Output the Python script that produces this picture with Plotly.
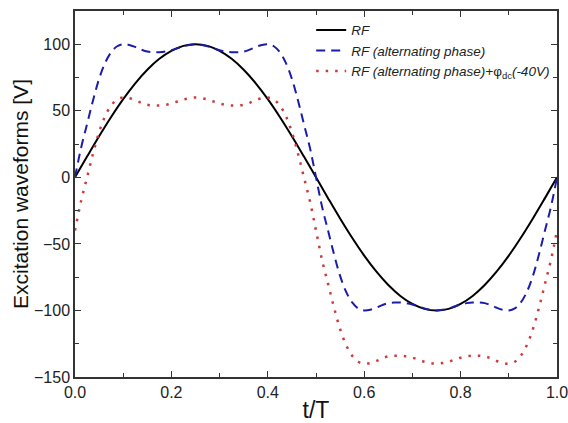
import plotly.graph_objects as go

# RF (pure sine), sampled every 0.025 of a period
t_rf = [i * 0.025 for i in range(41)]
v_rf = [0, 15.6, 30.9, 45.4, 58.8, 70.7, 80.9, 89.1, 95.1, 98.8, 100,
        98.8, 95.1, 89.1, 80.9, 70.7, 58.8, 45.4, 30.9, 15.6, 0,
        -15.6, -30.9, -45.4, -58.8, -70.7, -80.9, -89.1, -95.1, -98.8, -100,
        -98.8, -95.1, -89.1, -80.9, -70.7, -58.8, -45.4, -30.9, -15.6, 0]

# alternating-phase waveforms, sampled every 0.0125
t_alt = [i * 0.0125 for i in range(81)]
v_alt = [0, 22, 40, 58, 74, 86, 94, 98.5, 100, 99.5, 98, 96, 94.5, 94, 94, 94.5, 95.5, 97, 98.5, 99.5,
         100, 99.5, 98.5, 97, 95.5, 94.5, 94, 94, 94.5, 96, 98, 99.5, 100, 98.5, 94, 86, 74, 58, 40, 22,
         0, -22, -40, -58, -74, -86, -94, -98.5, -100, -99.5, -98, -96, -94.5, -94, -94, -94.5, -95.5, -97, -98.5, -99.5,
         -100, -99.5, -98.5, -97, -95.5, -94.5, -94, -94, -94.5, -96, -98, -99.5, -100, -98.5, -94, -86, -74, -58, -40, -22,
         0]
v_dc = [-40, -18, 0, 18, 34, 46, 54, 58.5, 60, 59.5, 58, 56, 54.5, 54, 54, 54.5, 55.5, 57, 58.5, 59.5,
        60, 59.5, 58.5, 57, 55.5, 54.5, 54, 54, 54.5, 56, 58, 59.5, 60, 58.5, 54, 46, 34, 18, 0, -18,
        -40, -62, -80, -98, -114, -126, -134, -138.5, -140, -139.5, -138, -136, -134.5, -134, -134, -134.5, -135.5, -137, -138.5, -139.5,
        -140, -139.5, -138.5, -137, -135.5, -134.5, -134, -134, -134.5, -136, -138, -139.5, -140, -138.5, -134, -126, -114, -98, -80, -62,
        -40]

names = ["<i>RF</i>",
         "<i>RF (alternating phase)</i>",
         "<i>RF (alternating phase)+</i>\u03c6<sub>dc</sub><i>(-40V)</i>"]

fig = go.Figure()
fig.add_trace(go.Scatter(x=t_rf, y=v_rf, mode="lines", name=names[0],
                         line=dict(color="black", width=2, shape="spline")))
fig.add_trace(go.Scatter(x=t_alt, y=v_alt, mode="lines", name=names[1],
                         line=dict(color="#1c1caa", width=2, dash="9px,6px", shape="spline")))
fig.add_trace(go.Scatter(x=t_alt, y=v_dc, mode="lines", name=names[2],
                         line=dict(color="#cc3b3b", width=2.5, dash="2.5px,7px", shape="spline")))

axis_common = dict(showline=True, linecolor="#333", linewidth=1.5, mirror="ticks",
                   ticks="inside", ticklen=6, tickwidth=1.3, tickcolor="#333",
                   showgrid=False, zeroline=False, ticklabeloverflow="allow", automargin=False,
                   tickfont=dict(family="Liberation Sans, Arial", size=16, color="#222"))

fig.update_xaxes(range=[0, 1.0], tickvals=[0, 0.2, 0.4, 0.6, 0.8, 1.0], tickformat=".1f",
                 minor=dict(dtick=0.1, tick0=0, ticks="inside", ticklen=4, tickcolor="#333"),
                 title=dict(text="t/T", font=dict(family="Liberation Sans, Arial", size=23, color="#111"), standoff=2),
                 **axis_common)
fig.update_yaxes(range=[-150, 125], tickvals=[-150, -100, -50, 0, 50, 100],
                 minor=dict(dtick=25, tick0=0, ticks="inside", ticklen=4, tickcolor="#333"),
                 title=dict(text="Excitation waveforms [V]", font=dict(family="Liberation Sans, Arial", size=21, color="#111"), standoff=0),
                 **axis_common)

fig.update_layout(width=568, height=423, margin=dict(l=75, r=11, t=11, b=46),
                  paper_bgcolor="white", plot_bgcolor="white",
                  legend=dict(x=0.49, y=0.99, xanchor="left", yanchor="top", bgcolor="rgba(0,0,0,0)",
                              font=dict(family="Liberation Sans, Arial", size=13.5, color="#222"),
                              tracegroupgap=0, itemwidth=30),
                  showlegend=True)

fig.write_html("out.html", config={"displayModeBar": False},
               post_script="document.body.style.margin='0';document.body.style.overflow='hidden';")
